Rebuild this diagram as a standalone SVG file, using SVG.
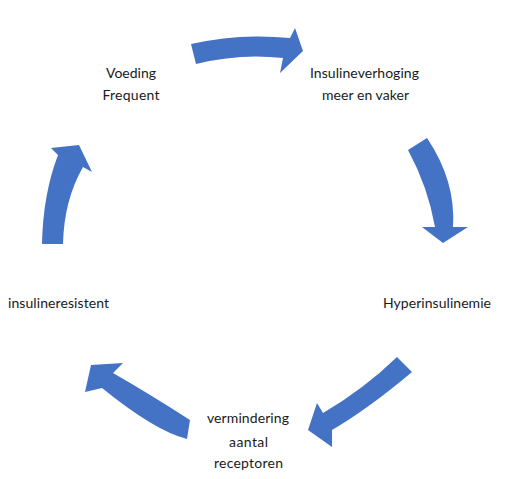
<svg xmlns="http://www.w3.org/2000/svg" width="512" height="479" viewBox="0 0 512 479">
<style>
.arrow{fill:#4472C4;stroke:none}
.lbl{font-family:Lato,"Open Sans","Liberation Sans",sans-serif;font-size:14px;fill:#1a1a1a;text-anchor:middle}
</style>
<rect width="512" height="479" fill="#ffffff"/>
<g id="connectors">
<path class="arrow" d="M191,44 Q240,33 290,38 L295,28 L303,51 L280,73 L283,58 Q240,53 196,64 Z"/>
<path class="arrow" d="M408,150 Q428,187 435,227 L422,227 L443,243 L468,227 L453,227 Q456,181 427,138 Z"/>
<path class="arrow" d="M397,357 L412,372 Q368,409 332,430 L332,447 L308,430 L317,403 L323,413 Q364,389 397,357 Z"/>
<path class="arrow" d="M190,420 Q148,393 113,373 L123,363 L91,365 L85,392 L102,388 Q155,431 187,439 Z"/>
<path class="arrow" d="M42,244 Q43,194 58,155 L51,148 L79,145 L92,172 L83,167 Q64,200 63,244 Z"/>
</g>
<g id="node-voeding">
<text class="lbl" x="131" y="78" textLength="50">Voeding</text>
<text class="lbl" x="131" y="100" textLength="57">Frequent</text>
</g>
<g id="node-insulineverhoging">
<text class="lbl" x="364.5" y="78" textLength="109">Insulineverhoging</text>
<text class="lbl" x="365.5" y="100" textLength="87">meer en vaker</text>
</g>
<g id="node-hyperinsulinemie">
<text class="lbl" x="437" y="308" textLength="108">Hyperinsulinemie</text>
</g>
<g id="node-vermindering">
<text class="lbl" x="248" y="423" textLength="82">vermindering</text>
<text class="lbl" x="248.5" y="447" textLength="39">aantal</text>
<text class="lbl" x="248.5" y="468" textLength="69">receptoren</text>
</g>
<g id="node-insulineresistent">
<text class="lbl" x="58.5" y="308" textLength="101">insulineresistent</text>
</g>
</svg>
